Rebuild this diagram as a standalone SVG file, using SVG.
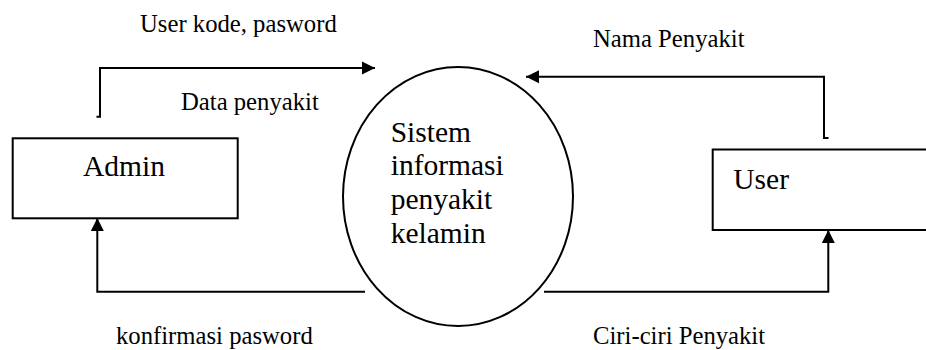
<svg xmlns="http://www.w3.org/2000/svg" width="926" height="350" viewBox="0 0 926 350">
  <defs>
    <marker id="arrow" markerUnits="userSpaceOnUse" markerWidth="14" markerHeight="14" viewBox="0 0 14 14" refX="13" refY="7" orient="auto">
      <path d="M0,0.5 L13,7 L0,13.5 Z" fill="#000"/>
    </marker>
    <style>
      .box { fill: #fff; stroke: #000; stroke-width: 2; }
      .proc { fill: #fff; stroke: #000; stroke-width: 2; }
      .flow { fill: none; stroke: #000; stroke-width: 2; }
      .node-text { font-size: 29.5px; fill: #000; }
      .label { font-size: 24.7px; fill: #000; }
    </style>
  </defs>
  <rect width="926" height="350" fill="#fff"/>

  <!-- data flows -->
  <g id="connectors">
    <path class="flow" d="M96.5,116.7 H100 V68 H375" marker-end="url(#arrow)"/>
    <path class="flow" d="M828.5,138 H824 V76.7 H526" marker-end="url(#arrow)"/>
    <path class="flow" d="M365,291.7 H97.3 V218" marker-end="url(#arrow)"/>
    <path class="flow" d="M544,291.7 H828.3 V230" marker-end="url(#arrow)"/>
  </g>

  <g id="flow-labels" font-family="'Liberation Serif', serif">
    <text class="label" x="140" y="32">User kode, pasword</text>
    <text class="label" x="181" y="110">Data penyakit</text>
    <text class="label" x="593" y="47.3">Nama Penyakit</text>
    <text class="label" x="116" y="344">konfirmasi pasword</text>
    <text class="label" x="593" y="344">Ciri-ciri Penyakit</text>
  </g>

  <g id="admin" font-family="'Liberation Serif', serif">
    <rect class="box" x="12.7" y="138.3" width="225" height="80"/>
    <text class="node-text" x="83" y="176">Admin</text>
  </g>

  <g id="user" font-family="'Liberation Serif', serif">
    <rect class="box" x="712.7" y="149.5" width="230" height="80.5"/>
    <text class="node-text" x="733.3" y="189.3">User</text>
  </g>

  <g id="sistem" font-family="'Liberation Serif', serif">
    <ellipse class="proc" cx="458" cy="196.5" rx="115" ry="129.5"/>
    <text class="node-text" x="390.7">
      <tspan x="390.7" y="141.7">Sistem</tspan>
      <tspan x="390.7" y="175.3">informasi</tspan>
      <tspan x="390.7" y="208.9">penyakit</tspan>
      <tspan x="390.7" y="242.5">kelamin</tspan>
    </text>
  </g>
</svg>
